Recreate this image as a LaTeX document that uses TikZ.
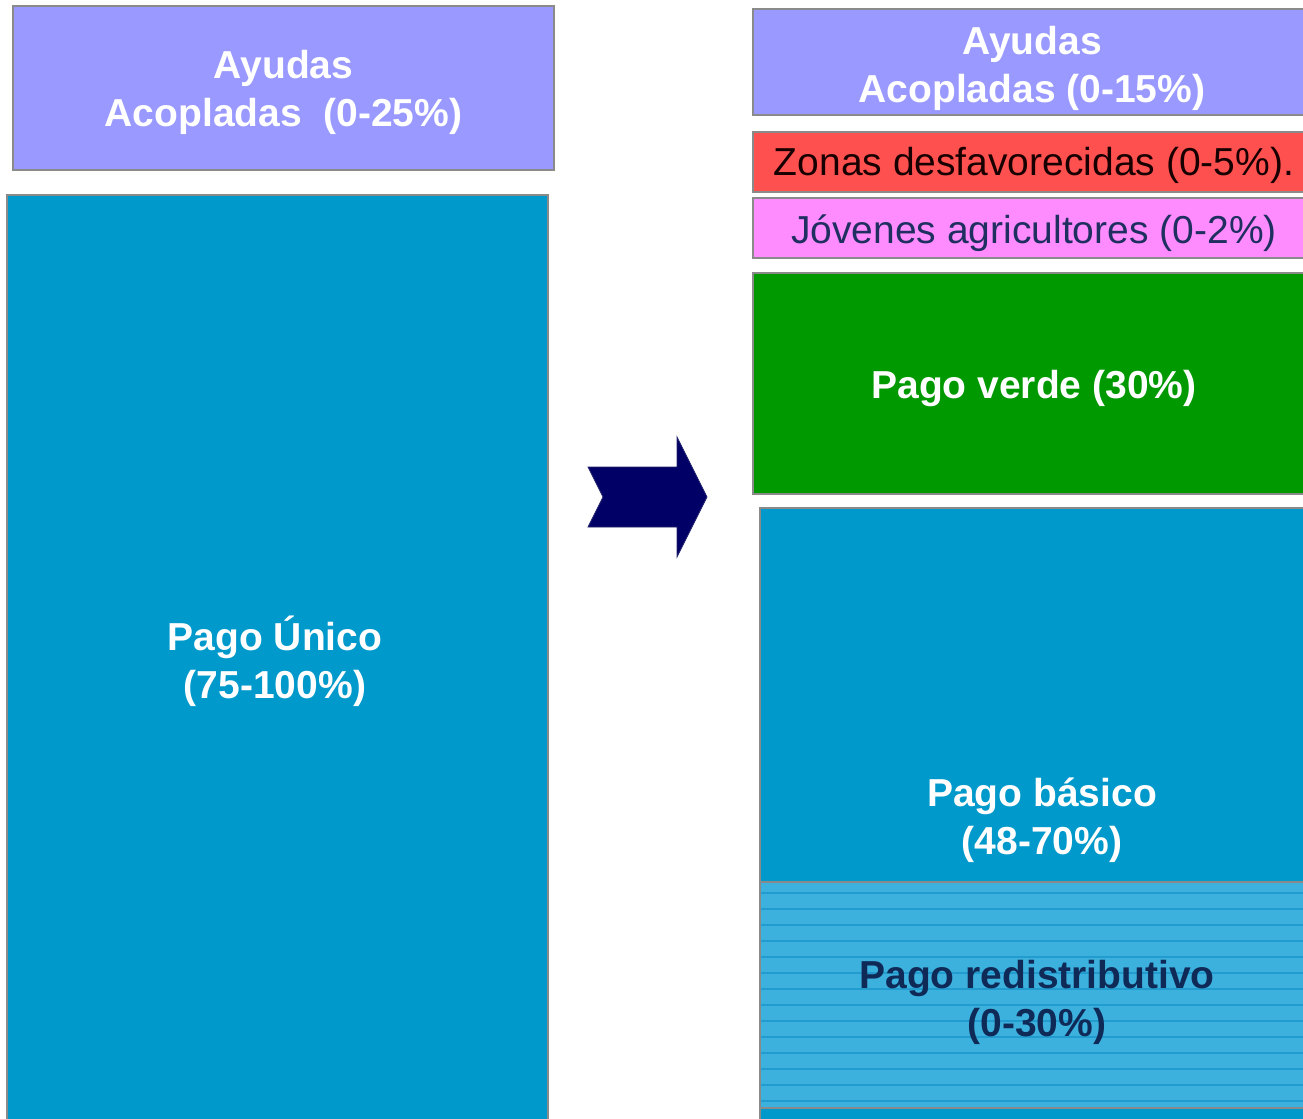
\documentclass[tikz,border=0pt]{standalone}
\usepackage{fontspec}
\setmainfont{Liberation Sans}
\definecolor{cpurple}{HTML}{9999FF}
\definecolor{cblue}{HTML}{0099CC}
\definecolor{cred}{HTML}{FF5050}
\definecolor{cpink}{HTML}{FF8CFF}
\definecolor{cgreen}{HTML}{009900}
\definecolor{cnavy}{HTML}{000066}
\definecolor{cstripebg}{HTML}{3DB1DE}
\definecolor{cstripe}{HTML}{229CCE}
\definecolor{ctxtnavy}{HTML}{1F2F5F}
\definecolor{credtxt}{HTML}{102A58}
\definecolor{cborder}{HTML}{8A8A8A}
\tikzset{
  panel/.style={draw=cborder, line width=1.2pt, rectangle, inner sep=0pt},
  lbl/.style={align=center, inner sep=0pt, font=\fontsize{29.25}{36}\selectfont},
  blbl/.style={lbl, font=\fontsize{29.25}{36}\selectfont\bfseries, text=white}
}
\begin{document}
\begin{tikzpicture}[x=0.75pt,y=-0.75pt]
\useasboundingbox (0,0) rectangle (1303,1118);
\clip (0,0) rectangle (1303,1118);
\fill[white] (0,0) rectangle (1303,1118);
% left column
\node[panel, fill=cpurple, minimum width=541*0.75pt, minimum height=164*0.75pt] (ayL) at (283.5,88) {};
\node[blbl] (ayLt) at (283.5,92) {Ayudas\\Acopladas\ \ (0-25\%)};
\node[panel, fill=cblue, minimum width=541*0.75pt, minimum height=930*0.75pt] (unico) at (277.5,660) {};
\node[blbl] (unicot) at (275,661) {Pago Único\\(75-100\%)};
% arrow
\fill[cnavy, draw=cnavy!70!gray, line width=0.6pt] (588,467) -- (677,467) -- (677,437) -- (707,497) -- (677,557) -- (677,527) -- (588,527) -- (603,497) -- cycle;
% right column
\node[panel, fill=cpurple, minimum width=600*0.75pt, minimum height=106*0.75pt] (ayR) at (1053,62) {};
\node[blbl] (ayRt) at (1032,68) {Ayudas\\Acopladas (0-15\%)};
\node[panel, fill=cred, minimum width=600*0.75pt, minimum height=60*0.75pt] (zona) at (1053,162) {};
\node[lbl, text=black!90!red] (zonat) at (1034,165) {Zonas desfavorecidas (0-5\%).};
\node[panel, fill=cpink, minimum width=600*0.75pt, minimum height=60*0.75pt] (jov) at (1053,228) {};
\node[lbl, text=ctxtnavy] (jovt) at (1034,233) {Jóvenes agricultores (0-2\%)};
\node[panel, fill=cgreen, minimum width=600*0.75pt, minimum height=221*0.75pt] (verde) at (1053,383.5) {};
\node[blbl] (verdet) at (1034,388) {Pago verde (30\%)};
\node[panel, fill=cblue, minimum width=600*0.75pt, minimum height=640*0.75pt] (basico) at (1060,828) {};
\node[blbl] (basicot) at (1042,820) {Pago básico\\ (48-70\%)};
% redistributivo striped area
\fill[cstripebg] (760,882) rectangle (1360,1108);
\foreach \yy in {893,909,...,1105} {
  \draw[cstripe, line width=2pt] (760,\yy) -- (1360,\yy);
}
\draw[cborder, line width=1.2pt] (760,882) -- (1360,882);
\draw[cborder, line width=1.2pt] (760,1108) -- (1360,1108);
\draw[cborder, line width=1.2pt] (760,882) -- (760,1108);
\node[lbl, font=\fontsize{29.25}{36}\selectfont\bfseries, text=credtxt] (redist) at (1037,1002) {Pago redistributivo\\(0-30\%)};
\end{tikzpicture}
\end{document}
